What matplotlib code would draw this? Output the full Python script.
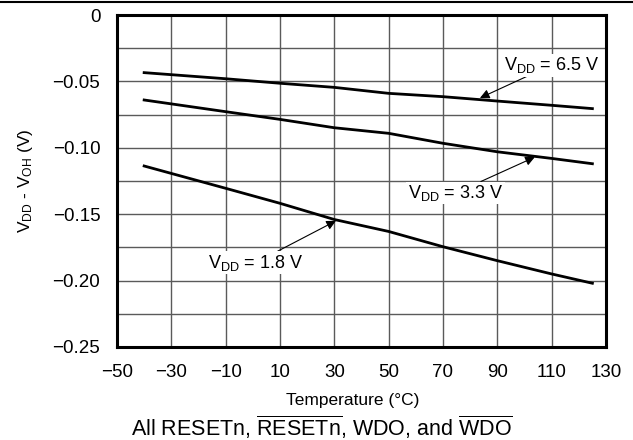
import numpy as np
import matplotlib
matplotlib.use("Agg")
import matplotlib.pyplot as plt
from matplotlib.lines import Line2D

plt.rcParams['font.family'] = ['Liberation Sans', 'DejaVu Sans']
plt.rcParams['mathtext.fontset'] = 'custom'
plt.rcParams['mathtext.rm'] = 'Liberation Sans'
plt.rcParams['mathtext.it'] = 'Liberation Sans:italic'

# temperature (deg C) and V_DD - V_OH (V)
temp = [-40, -10, 10, 30, 50, 70, 90, 110, 125]
v65 = [-0.0434, -0.0480, -0.0514, -0.0545, -0.0590, -0.0615, -0.0648, -0.0680, -0.0705]
v33 = [-0.0640, -0.0728, -0.0786, -0.0849, -0.0891, -0.0966, -0.1030, -0.1080, -0.1120]
v18 = [-0.1137, -0.1305, -0.1418, -0.1540, -0.1630, -0.1745, -0.1850, -0.1950, -0.2020]

xticks = list(range(-50, 131, 20))
yticks = [0, -0.05, -0.10, -0.15, -0.20, -0.25]
ytick_labels = ['0', '\u22120.05', '\u22120.10', '\u22120.15', '\u22120.20', '\u22120.25']

fig = plt.figure(figsize=(6.33, 4.40), dpi=100)
ax = fig.add_axes([0.1848, 0.2114, 0.7725, 0.7545])

for ys in (v65, v33, v18):
    ax.plot(temp, ys, color='black', lw=2)

ax.set_xlim(-50, 130)
ax.set_ylim(-0.25, 0)
ax.set_xticks(xticks)
ax.set_xticklabels([str(t).replace('-', '\u2212') for t in xticks])
ax.set_yticks(yticks)
ax.set_yticklabels(ytick_labels)
ax.set_yticks(np.arange(-0.25, 0.001, 0.025), minor=True)
ax.grid(True, which='both', color='#5a5a5a', lw=1)
ax.tick_params(which='both', length=0, labelsize=13.5)
ax.tick_params(axis='y', pad=12)
ax.tick_params(axis='x', pad=12)
for s in ax.spines.values():
    s.set_linewidth(2.2)

ax.set_ylabel(r'V$_{\mathrm{DD}}$ - V$_{\mathrm{OH}}$ (V)', fontsize=12.5)
ax.yaxis.set_label_coords(-0.168, 0.5)

arrow = dict(arrowstyle='-|>', color='black', lw=0.8, mutation_scale=14, shrinkA=0, shrinkB=0)
ax.annotate(r'V$_{\mathrm{DD}}$ = 6.5 V', xy=(83.6, -0.0625), xytext=(92.4, -0.0377),
            fontsize=13, ha='left', va='center', arrowprops=arrow,
            bbox=dict(fc='white', ec='none', pad=1))
ax.annotate(r'V$_{\mathrm{DD}}$ = 3.3 V', xy=(103.8, -0.107), xytext=(57.1, -0.134),
            fontsize=13, ha='left', va='center', arrowprops=arrow,
            bbox=dict(fc='white', ec='none', pad=1))
ax.annotate(r'V$_{\mathrm{DD}}$ = 1.8 V', xy=(30.6, -0.155), xytext=(-16.5, -0.1865),
            fontsize=13, ha='left', va='center', arrowprops=arrow,
            bbox=dict(fc='white', ec='none', pad=1))

fig.text(0.5573, 1 - 400 / 440, 'Temperature (\u00b0C)', fontsize=12.5, ha='center', va='center')
fig.text(0.508, 1 - 427 / 440,
         r'All RESETn, $\overline{\mathrm{RESETn}}$, WDO, and $\overline{\mathrm{WDO}}$',
         fontsize=15.5, ha='center', va='center')

fig.add_artist(Line2D([0, 1], [1 - 2 / 440, 1 - 2 / 440], color='black', lw=1.5,
                      transform=fig.transFigure))

fig.savefig('out.png', dpi=100)
